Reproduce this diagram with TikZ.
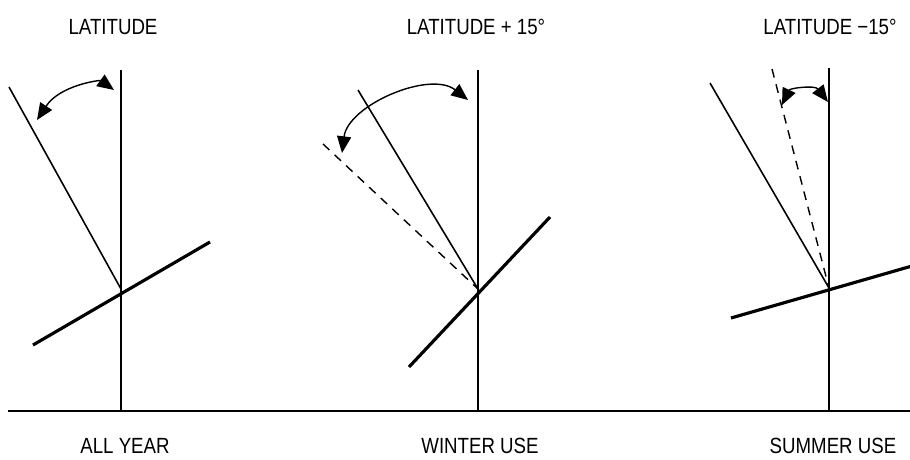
\documentclass[tikz,border=0pt]{standalone}
\usepackage{fontspec}
\setmainfont[FakeStretch=0.85]{Liberation Sans}
\usetikzlibrary{arrows.meta}

\tikzset{
  lbl/.style={font=\fontsize{12.5}{14}\selectfont, inner sep=0pt},
  pole/.style={line width=0.8pt},
  ray/.style={line width=0.9pt},
  raydash/.style={line width=0.8pt, dash pattern=on 5pt off 4pt},
  collector/.style={line width=1.8pt},
  swing/.style={line width=0.8pt, {Triangle[length=9.5pt,width=8pt]}-{Triangle[length=9.5pt,width=8pt]}}
}

\begin{document}
\begin{tikzpicture}[x=0.2mm, y=-0.2mm]
  \useasboundingbox (0,0) rectangle (910,459);
  % ground
  \coordinate (g0) at (8,411);
  \coordinate (g1) at (910,411);
  \draw[line width=1.1pt] (g0) -- (g1);
  % All year: tilt = latitude
  \coordinate (top1) at (121,70);
  \coordinate (foot1) at (121,411);
  \coordinate (piv1) at (121,289);
  \coordinate (sun1) at (9,87);
  \coordinate (lo1) at (33,345);
  \coordinate (hi1) at (210,242);
  \draw[pole] (top1) -- (foot1);
  \draw[ray] (sun1) -- (piv1);
  \draw[collector] (lo1) -- (hi1);
  \coordinate (sa1) at (37,120);
  \coordinate (sb1) at (114,90);
  \draw[swing] (sa1) .. controls (60,85) and (100,80) .. (sb1);
  \node[lbl] (lat1) at (113,27) {LATITUDE};
  \node[lbl] (use1) at (125,446) {ALL YEAR};
  % Winter use: latitude + 15
  \coordinate (top2) at (478,70);
  \coordinate (foot2) at (478,411);
  \coordinate (piv2) at (478,289);
  \coordinate (sun2) at (358,90);
  \coordinate (dash2) at (323,144);
  \coordinate (lo2) at (409,367);
  \coordinate (hi2) at (550,217);
  \draw[pole] (top2) -- (foot2);
  \draw[ray] (sun2) -- (piv2);
  \draw[raydash] (dash2) -- (piv2);
  \draw[collector] (lo2) -- (hi2);
  \coordinate (sa2) at (342,153);
  \coordinate (sb2) at (468,100);
  \draw[swing] (sa2) .. controls (348,105) and (430,70) .. (sb2);
  \node[lbl] (lat2) at (476,27) {LATITUDE + 15°};
  \node[lbl] (use2) at (480,446) {WINTER USE};
  % Summer use: latitude - 15
  \coordinate (top3) at (829,68);
  \coordinate (foot3) at (829,411);
  \coordinate (piv3) at (829,288);
  \coordinate (sun3) at (710,83);
  \coordinate (dash3) at (772,69);
  \coordinate (lo3) at (731,318);
  \coordinate (hi3) at (912,266);
  \draw[pole] (top3) -- (foot3);
  \draw[ray] (sun3) -- (piv3);
  \draw[raydash] (dash3) -- (piv3);
  \draw[collector] (lo3) -- (hi3);
  \coordinate (sa3) at (782,105);
  \coordinate (sb3) at (828,102);
  \draw[swing] (sa3) .. controls (790,88) and (815,85) .. (sb3);
  \node[lbl] (lat3) at (830,27) {LATITUDE −15°};
  \node[lbl] (use3) at (833,446) {SUMMER USE};
\end{tikzpicture}
\end{document}
